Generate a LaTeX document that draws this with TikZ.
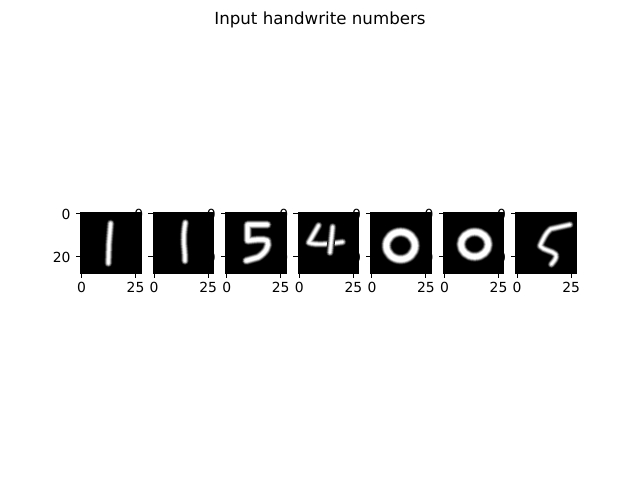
\documentclass[tikz,border=0pt]{standalone}
\usepackage{fontspec}
\setmainfont{DejaVu Sans}
\newcommand{\blurred}[2]{%
  \foreach \dw/\g in {18/8,15/20,12/38,9/58,6/76,3/90,0/100}{%
    \pgfmathsetmacro{\lw}{(#1+\dw)*0.24}%
    \draw[digitstroke,line width=\lw pt,draw=white!\g!black] #2;
  }%
}
\tikzset{
  digitstroke/.style={line cap=round,line join=round},
  panelbox/.style={fill=black,draw=black,line width=0.8pt},
  tickmark/.style={draw=black,line width=0.8pt},
  ticklabel/.style={inner sep=0pt,text=black,font=\fontsize{10}{12}\selectfont},
  titlelabel/.style={inner sep=0pt,text=black,font=\fontsize{12}{14}\selectfont},
  zoomframe/.style={shift={#1},x=0.24pt,y=-0.24pt}
}
\begin{document}
\begin{tikzpicture}[x=0.72pt,y=-0.72pt]
\path[use as bounding box,fill=white] (0,0) rectangle (640,480);
\node[titlelabel,anchor=base] (title) at (320,24) {Input handwrite numbers};
\foreach \i in {0,...,6}{
  \pgfmathsetmacro{\L}{80.5+72.585*\i}
  \pgfmathsetmacro{\R}{\L+60.49}
  \pgfmathsetmacro{\xa}{\L+1.08}
  \pgfmathsetmacro{\xb}{\L+55.08}
  \path[panelbox] (\L,212.65) rectangle (\R,273.15);
  \draw[tickmark] (\xa,273.15) -- ++(0,4.86);
  \draw[tickmark] (\xb,273.15) -- ++(0,4.86);
  \draw[tickmark] (\L,213.73) -- ++(-4.86,0);
  \draw[tickmark] (\L,256.93) -- ++(-4.86,0);
  \node[ticklabel,anchor=base] (xz\i) at (\xa,292) {0};
  \node[ticklabel,anchor=base] (xq\i) at (\xb,292) {25};
  \node[ticklabel,anchor=base east] (yz\i) at ({\L-9.72},219) {0};
  \node[ticklabel,anchor=base east] (yt\i) at ({\L-9.72},262.2) {20};
}
% digit 1
\begin{scope}[zoomframe={(78,210)}]
  \blurred{6}{(98,40) -- (93,100) -- (91,160)}
\end{scope}
% digit 1
\begin{scope}[zoomframe={(151,210)}]
  \blurred{6}{(103,38) .. controls (99,60) and (97,85) .. (99,105) .. controls (101,125) and (102,140) .. (102,153)}
\end{scope}
% digit 5
\begin{scope}[zoomframe={(223,210)}]
  \blurred{9}{(133,44) -- (74,44) -- (74,92) .. controls (95,90) and (120,85) .. (133,92) .. controls (140,108) and (128,128) .. (105,142) -- (70,152)}
\end{scope}
% digit 4
\begin{scope}[zoomframe={(296,210)}]
  \blurred{5}{(68,46) -- (38,98) .. controls (60,106) and (100,102) .. (140,96)}
  \blurred{5}{(110,50) -- (102,128)}
\end{scope}
% digit 0
\begin{scope}[zoomframe={(368,210)}]
  \blurred{14}{(98,107) ellipse [x radius=43,y radius=41]}
\end{scope}
% digit 0
\begin{scope}[zoomframe={(441,210)}]
  \blurred{13}{(101,103) ellipse [x radius=41,y radius=37]}
\end{scope}
% digit 5
\begin{scope}[zoomframe={(514,210)}]
  \blurred{5}{(168,44) -- (110,57) .. controls (98,65) and (85,90) .. (78,108) .. controls (90,122) and (115,122) .. (125,133) .. controls (130,145) and (118,155) .. (112,163)}
\end{scope}
\end{tikzpicture}
\end{document}
